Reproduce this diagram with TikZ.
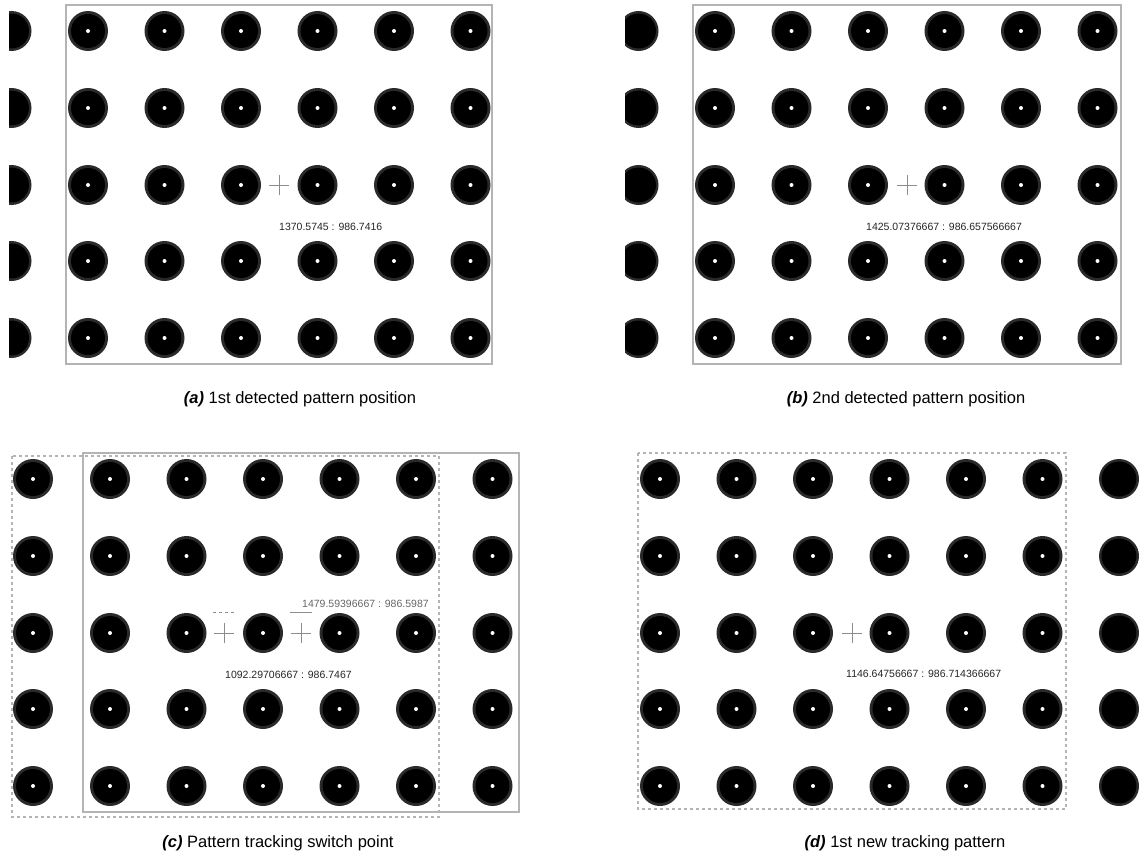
\documentclass[tikz,border=0pt]{standalone}
\usepackage{fontspec}
\setmainfont{Liberation Sans}
\begin{document}
\begin{tikzpicture}[x=1pt,y=-1pt,
  framebox/.style={draw=framegray,line width=1.2pt},
  dashbox/.style={draw=framegray,line width=1.2pt,dash pattern=on 3pt off 3pt},
  crossmark/.style={draw=crossgray,line width=0.8pt},
  coordlabel/.style={font=\fontsize{10.5}{12}\selectfont,text=black!85,anchor=west,inner sep=0pt},
  coordlabelgray/.style={coordlabel,text=black!60},
  caption/.style={font=\fontsize{16.5}{19}\selectfont,anchor=base,inner sep=0pt}]
\definecolor{framegray}{HTML}{B4B4B4}
\definecolor{crossgray}{HTML}{8C8C8C}
\definecolor{ringgray}{HTML}{2A2A2A}
\useasboundingbox[fill=white] (0,0) rectangle (1139,856);
\newcommand\tdot[2]{%
  \fill[ringgray] (#1,#2) circle (20pt);
  \fill[black] (#1,#2) circle (17pt);
  \fill[white] (#1,#2) circle (2pt);}
\newcommand\bdot[2]{%
  \fill[ringgray] (#1,#2) circle (20pt);
  \fill[black] (#1,#2) circle (17.5pt);}
\newcommand\tcross[2]{%
  \draw[crossmark] ([xshift=-10pt]#1,#2) -- ([xshift=10pt]#1,#2);
  \draw[crossmark] ([yshift=-10pt]#1,#2) -- ([yshift=10pt]#1,#2);}
% ---------------- (a)
\begin{scope}
  \clip (9,0) rectangle (560,380);
  \foreach \y in {31,108,185,261,338}{
    \bdot{11.5}{\y}
    \foreach \x in {88,164.5,241,317.5,394,470.5}{\tdot{\x}{\y}}}
\end{scope}
\draw[framebox] (66,5) rectangle (492,364);
\tcross{279}{185}
\node[coordlabel] (la) at (279,227) {1370.5745 : 986.7416};
\node[caption] (ca) at (300,403) {\textbf{\textit{(a)}} 1st detected pattern position};
% ---------------- (b)
\begin{scope}
  \clip (625,0) rectangle (1139,380);
  \foreach \y in {31,108,185,261,338}{
    \bdot{638.5}{\y}
    \foreach \x in {715,791.5,868,944.5,1021,1097.5}{\tdot{\x}{\y}}}
\end{scope}
\draw[framebox] (693,5) rectangle (1121,364);
\tcross{907}{185}
\node[coordlabel] (lb) at (866,227) {1425.07376667 : 986.657566667};
\node[caption] (cb) at (906,403) {\textbf{\textit{(b)}} 2nd detected pattern position};
% ---------------- (c)
\foreach \y in {479,556,633,709,786}{
  \foreach \x in {33,110,186.5,263,339.5,416,492.5}{\tdot{\x}{\y}}}
\draw[dashbox] (12,456) rectangle (439,817);
\draw[framebox] (83,453) rectangle (519,812);
\tcross{224}{633}
\tcross{301}{633}
\draw[crossgray,line width=0.8pt,dash pattern=on 3pt off 3pt] (213,612) -- (235,612);
\draw[crossgray,line width=0.8pt] (290,612) -- (312,612);
\node[coordlabelgray] (lc2) at (302,604) {1479.59396667 : 986.5987};
\node[coordlabel] (lc) at (225,675) {1092.29706667 : 986.7467};
\node[caption] (cc) at (278,847) {\textbf{\textit{(c)}} Pattern tracking switch point};
% ---------------- (d)
\foreach \y in {479,556,633,709,786}{
  \bdot{1119}{\y}
  \foreach \x in {660,736.5,813,889.5,966,1042.5}{\tdot{\x}{\y}}}
\draw[dashbox] (638,453) rectangle (1066,809);
\tcross{852}{633}
\node[coordlabel] (ld) at (846,674) {1146.64756667 : 986.714366667};
\node[caption] (cd) at (905,847) {\textbf{\textit{(d)}} 1st new tracking pattern};
\end{tikzpicture}
\end{document}
